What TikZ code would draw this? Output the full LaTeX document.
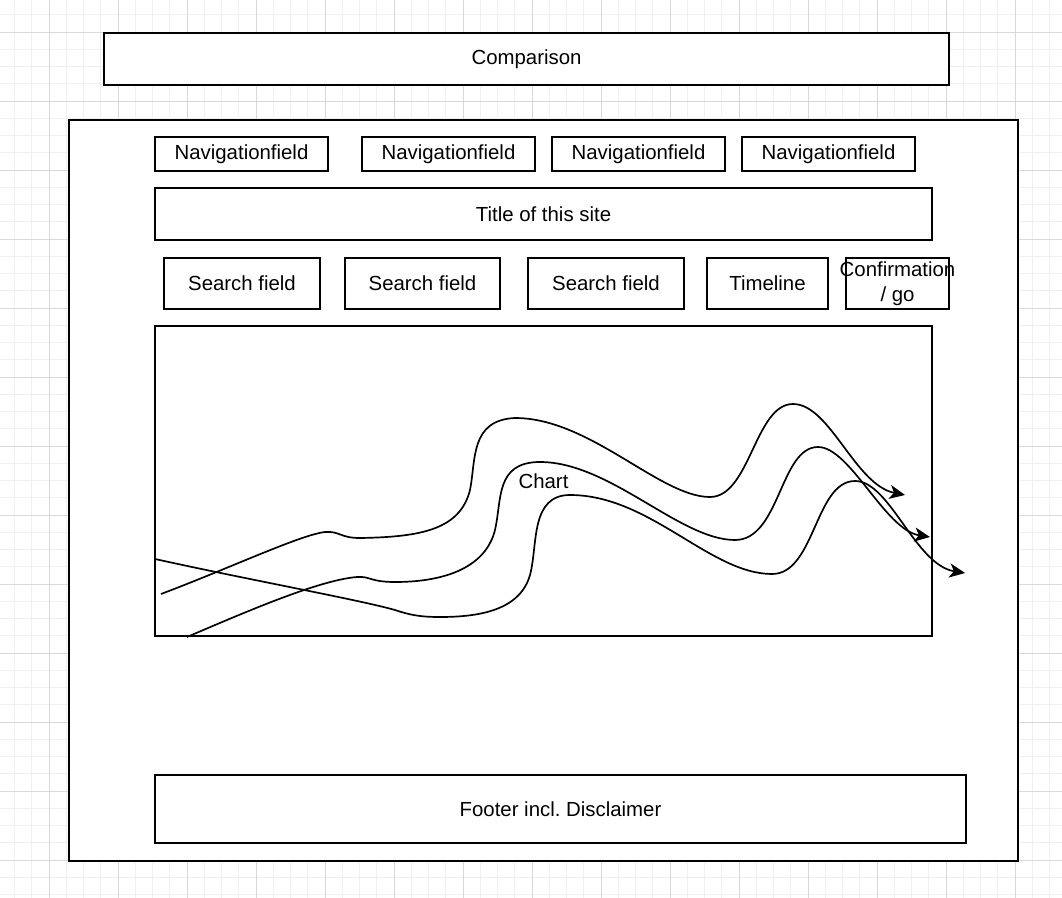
\documentclass[tikz,border=0pt]{standalone}
\usepackage{fontspec}
\setmainfont{Liberation Sans}
\usepackage{tikz}
\usetikzlibrary{arrows.meta}

\begin{document}
\begin{tikzpicture}[
  x=0.025cm, y=-0.025cm,
  box/.style={draw, fill=white, line width=1.2pt, inner sep=0pt, align=center, font=\fontsize{14.5}{17.4}\selectfont},
  gridminor/.style={draw=black!6, line width=0.6pt},
  gridmajor/.style={draw=black!15, line width=0.6pt},
  flow/.style={line width=1.2pt, -{Stealth[length=11pt, width=10pt, inset=3pt]}}
]
\useasboundingbox[fill=white] (0,0) rectangle (1062,898);
% background grid
\foreach \i in {0,...,60} \draw[gridminor] ({14.5+17.25*\i},0) -- ({14.5+17.25*\i},898);
\foreach \j in {0,...,51} \draw[gridminor] (0,{14.75+17.25*\j}) -- (1062,{14.75+17.25*\j});
\foreach \i in {0,...,14} \draw[gridmajor] ({49+69*\i},0) -- ({49+69*\i},898);
\foreach \j in {0,...,12} \draw[gridmajor] (0,{32+69*\j}) -- (1062,{32+69*\j});

\node[box, minimum width=21.125cm, minimum height=1.3cm] (comparison) at (526.5,59) {Comparison};
\node[box, minimum width=23.725cm, minimum height=18.525cm] (page) at (543.5,490.5) {};
\node[box, minimum width=4.325cm, minimum height=0.85cm] (nav1) at (241.5,154) {Navigationfield};
\node[box, minimum width=4.325cm, minimum height=0.85cm] (nav2) at (448.5,154) {Navigationfield};
\node[box, minimum width=4.325cm, minimum height=0.85cm] (nav3) at (638.5,154) {Navigationfield};
\node[box, minimum width=4.325cm, minimum height=0.85cm] (nav4) at (828.5,154) {Navigationfield};
\node[box, minimum width=19.425cm, minimum height=1.3cm] (title) at (543.5,214) {Title of this site};
\node[box, minimum width=3.9cm, minimum height=1.275cm] (search1) at (242,283.5) {Search field};
\node[box, minimum width=3.875cm, minimum height=1.275cm] (search2) at (422.5,283.5) {Search field};
\node[box, minimum width=3.9cm, minimum height=1.275cm] (search3) at (606,283.5) {Search field};
\node[box, minimum width=3.025cm, minimum height=1.275cm] (timeline) at (767.5,283.5) {Timeline};
\node[box, minimum width=2.575cm, minimum height=1.275cm, fill=none] (confirm) at (897.5,283.5) {\makebox[0pt]{Confirmation}\\/ go};
\node[box, minimum width=19.425cm, minimum height=7.75cm] (chart) at (543.5,481) {Chart};
\node[box, minimum width=20.275cm, minimum height=1.7cm] (footer) at (560.5,809) {Footer incl.\ Disclaimer};

% chart lines
\draw[flow] (161,594) .. controls (230,568) and (300,535) .. (325,532)
  .. controls (340,531) and (340,538) .. (360,538)
  .. controls (420,537) and (460,530) .. (470,490)
  .. controls (476,460) and (470,420) .. (515,418)
  .. controls (590,418) and (660,497) .. (710,497)
  .. controls (750,497) and (755,404) .. (793,404)
  .. controls (830,404) and (855,485) .. (905,495);
\draw[flow] (187,637) .. controls (250,610) and (320,580) .. (357,577)
  .. controls (370,576) and (370,582) .. (395,582)
  .. controls (440,582) and (485,570) .. (495,530)
  .. controls (502,500) and (495,462) .. (540,462)
  .. controls (610,462) and (680,540) .. (735,540)
  .. controls (780,540) and (780,447) .. (818,447)
  .. controls (850,447) and (885,530) .. (930,537);
\draw[flow] (155,559) .. controls (250,580) and (360,600) .. (395,610)
  .. controls (410,615) and (420,617) .. (440,617)
  .. controls (480,617) and (520,610) .. (530,575)
  .. controls (538,545) and (530,495) .. (570,495)
  .. controls (650,495) and (710,574) .. (772,574)
  .. controls (815,574) and (815,481) .. (855,481)
  .. controls (890,481) and (915,565) .. (965,573);
\end{tikzpicture}
\end{document}
